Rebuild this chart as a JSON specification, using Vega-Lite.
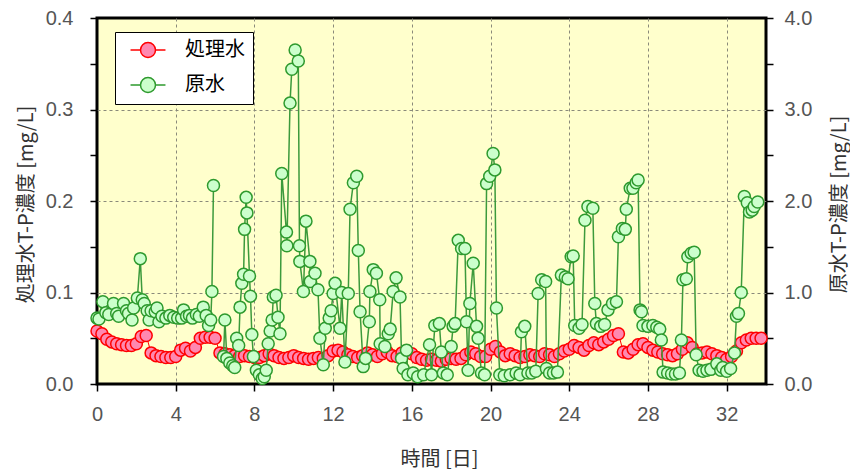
{
  "$schema": "https://vega.github.io/schema/vega-lite/v6.json",
  "width": 669,
  "height": 366,
  "autosize": "none",
  "padding": {"left": 97, "top": 18, "right": 84, "bottom": 86},
  "background": "white",
  "config": {
    "view": {"fill": "#FFFFCC", "stroke": "black", "strokeWidth": 3},
    "axis": {
      "domain": false,
      "tickColor": "black",
      "tickWidth": 1.5,
      "tickSize": 7,
      "labelFont": "Liberation Sans Narrow, Liberation Sans",
      "labelFontSize": 20,
      "labelColor": "#555555",
      "labelOverlap": false,
      "labelFlush": false,
      "labelBound": false,
      "titleFont": "Noto Sans CJK JP",
      "titleFontSize": 20,
      "titleFontWeight": "normal",
      "titleColor": "#333333",
      "gridColor": "#8a8a7a",
      "gridDash": [3, 3],
      "gridWidth": 1
    },
    "legend": {
      "orient": "none",
      "legendX": 18,
      "legendY": 14,
      "fillColor": "white",
      "strokeColor": "black",
      "padding": 8,
      "symbolType": "M -2.33 0 L -1 0 M 1 0 L 2.33 0 M -1 0 A 1 1 0 1 1 1 0 A 1 1 0 1 1 -1 0 Z",
      "symbolSize": 225,
      "symbolStrokeWidth": 1.5,
      "symbolOffset": 15,
      "labelOffset": 27,
      "labelFont": "Noto Sans CJK JP",
      "labelFontSize": 20,
      "labelColor": "black",
      "rowPadding": 13,
      "labelLimit": 200
    }
  },
  "datasets": {
    "red": [
      {"day":0,"value":0.058},{"day":0.25,"value":0.055},{"day":0.5,"value":0.049},{"day":0.75,"value":0.046},
      {"day":1,"value":0.044},{"day":1.25,"value":0.043},{"day":1.5,"value":0.042},{"day":1.75,"value":0.042},
      {"day":2,"value":0.044},{"day":2.25,"value":0.052},{"day":2.5,"value":0.053},{"day":2.75,"value":0.034},
      {"day":3,"value":0.031},{"day":3.25,"value":0.030},{"day":3.5,"value":0.029},{"day":3.75,"value":0.029},
      {"day":4,"value":0.030},{"day":4.25,"value":0.037},{"day":4.5,"value":0.039},{"day":4.75,"value":0.036},
      {"day":5,"value":0.040},{"day":5.25,"value":0.050},{"day":5.5,"value":0.051},{"day":5.75,"value":0.051},
      {"day":6,"value":0.050},{"day":6.25,"value":0.034},{"day":6.5,"value":0.033},{"day":6.75,"value":0.032},
      {"day":7,"value":0.031},{"day":7.25,"value":0.030},{"day":7.5,"value":0.031},{"day":7.75,"value":0.030},
      {"day":8,"value":0.029},{"day":8.25,"value":0.029},{"day":8.5,"value":0.031},{"day":8.75,"value":0.033},
      {"day":9,"value":0.031},{"day":9.25,"value":0.029},{"day":9.5,"value":0.028},{"day":9.75,"value":0.029},
      {"day":10,"value":0.031},{"day":10.25,"value":0.029},{"day":10.5,"value":0.028},{"day":10.75,"value":0.027},
      {"day":11,"value":0.028},{"day":11.25,"value":0.029},{"day":11.5,"value":0.028},{"day":11.75,"value":0.031},
      {"day":12,"value":0.036},{"day":12.25,"value":0.037},{"day":12.5,"value":0.035},{"day":12.75,"value":0.032},
      {"day":13,"value":0.030},{"day":13.25,"value":0.029},{"day":13.5,"value":0.031},{"day":13.75,"value":0.034},
      {"day":14,"value":0.032},{"day":14.25,"value":0.030},{"day":14.5,"value":0.033},{"day":14.75,"value":0.035},
      {"day":15,"value":0.031},{"day":15.25,"value":0.030},{"day":15.5,"value":0.034},{"day":15.75,"value":0.036},
      {"day":16,"value":0.033},{"day":16.25,"value":0.029},{"day":16.5,"value":0.027},{"day":16.75,"value":0.026},
      {"day":17,"value":0.027},{"day":17.25,"value":0.026},{"day":17.5,"value":0.025},{"day":17.75,"value":0.027},
      {"day":18,"value":0.028},{"day":18.25,"value":0.027},{"day":18.5,"value":0.028},{"day":18.75,"value":0.032},
      {"day":19,"value":0.035},{"day":19.25,"value":0.033},{"day":19.5,"value":0.030},{"day":19.75,"value":0.030},
      {"day":20,"value":0.038},{"day":20.25,"value":0.041},{"day":20.5,"value":0.035},{"day":20.75,"value":0.031},
      {"day":21,"value":0.033},{"day":21.25,"value":0.031},{"day":21.5,"value":0.029},{"day":21.75,"value":0.030},
      {"day":22,"value":0.032},{"day":22.25,"value":0.031},{"day":22.5,"value":0.030},{"day":22.75,"value":0.033},
      {"day":23,"value":0.032},{"day":23.25,"value":0.030},{"day":23.5,"value":0.033},{"day":23.75,"value":0.036},
      {"day":24,"value":0.038},{"day":24.25,"value":0.042},{"day":24.5,"value":0.040},{"day":24.75,"value":0.037},
      {"day":25,"value":0.042},{"day":25.25,"value":0.045},{"day":25.5,"value":0.043},{"day":25.75,"value":0.046},
      {"day":26,"value":0.049},{"day":26.25,"value":0.053},{"day":26.5,"value":0.055},{"day":26.75,"value":0.035},
      {"day":27,"value":0.034},{"day":27.25,"value":0.038},{"day":27.5,"value":0.043},{"day":27.75,"value":0.044},
      {"day":28,"value":0.040},{"day":28.25,"value":0.037},{"day":28.5,"value":0.035},{"day":28.75,"value":0.033},
      {"day":29,"value":0.032},{"day":29.25,"value":0.031},{"day":29.5,"value":0.033},{"day":29.75,"value":0.038},
      {"day":30,"value":0.045},{"day":30.25,"value":0.040},{"day":30.5,"value":0.033},{"day":30.75,"value":0.034},
      {"day":31,"value":0.035},{"day":31.25,"value":0.033},{"day":31.5,"value":0.031},{"day":31.75,"value":0.029},
      {"day":32,"value":0.027},{"day":32.25,"value":0.030},{"day":32.5,"value":0.036},{"day":32.75,"value":0.045},
      {"day":33,"value":0.048},{"day":33.25,"value":0.050},{"day":33.5,"value":0.050},{"day":33.75,"value":0.050}
    ],
    "green": [
      {"day":0.0,"value":0.72},{"day":0.1,"value":0.71},{"day":0.3,"value":0.90},{"day":0.45,"value":0.78},{"day":0.6,"value":0.76},
      {"day":0.84,"value":0.88},{"day":1.0,"value":0.77},{"day":1.1,"value":0.74},{"day":1.35,"value":0.88},{"day":1.5,"value":0.80},
      {"day":1.6,"value":0.77},{"day":1.78,"value":0.70},{"day":1.86,"value":0.83},{"day":2.05,"value":0.94},{"day":2.2,"value":1.37},
      {"day":2.3,"value":0.92},{"day":2.4,"value":0.88},{"day":2.55,"value":0.80},{"day":2.65,"value":0.70},{"day":2.75,"value":0.80},
      {"day":2.96,"value":0.79},{"day":3.05,"value":0.83},{"day":3.15,"value":0.68},{"day":3.3,"value":0.74},{"day":3.5,"value":0.72},
      {"day":3.7,"value":0.75},{"day":3.9,"value":0.73},{"day":4.1,"value":0.72},{"day":4.3,"value":0.72},{"day":4.4,"value":0.81},
      {"day":4.55,"value":0.74},{"day":4.7,"value":0.75},{"day":4.85,"value":0.72},{"day":5.05,"value":0.76},{"day":5.2,"value":0.74},
      {"day":5.4,"value":0.84},{"day":5.55,"value":0.75},{"day":5.67,"value":0.64},{"day":5.78,"value":0.70},{"day":5.84,"value":1.01},
      {"day":5.92,"value":2.17},{"day":6.2,"value":null},{"day":6.43,"value":0.30},{"day":6.5,"value":0.70},{"day":6.6,"value":0.28},
      {"day":6.75,"value":0.23},{"day":6.9,"value":0.20},{"day":7.0,"value":0.18},{"day":7.1,"value":0.50},{"day":7.2,"value":0.42},
      {"day":7.27,"value":0.84},{"day":7.36,"value":1.10},{"day":7.45,"value":1.20},{"day":7.5,"value":1.69},{"day":7.58,"value":2.04},
      {"day":7.62,"value":1.87},{"day":7.75,"value":1.18},{"day":7.8,"value":0.96},{"day":7.87,"value":0.54},{"day":7.95,"value":0.30},
      {"day":8.1,"value":0.15},{"day":8.25,"value":0.10},{"day":8.4,"value":0.06},{"day":8.5,"value":0.08},{"day":8.6,"value":0.15},
      {"day":8.7,"value":0.44},{"day":8.8,"value":0.58},{"day":8.9,"value":0.70},{"day":8.96,"value":0.95},{"day":9.1,"value":0.97},
      {"day":9.2,"value":0.73},{"day":9.3,"value":0.55},{"day":9.39,"value":2.30},{"day":9.63,"value":1.66},{"day":9.65,"value":1.51},
      {"day":9.81,"value":3.07},{"day":9.9,"value":3.44},{"day":10.07,"value":3.65},{"day":10.23,"value":3.53},{"day":10.29,"value":1.51},
      {"day":10.31,"value":1.34},{"day":10.49,"value":1.01},{"day":10.62,"value":1.78},{"day":10.82,"value":1.34},{"day":10.84,"value":1.12},
      {"day":11.08,"value":1.21},{"day":11.23,"value":1.03},{"day":11.33,"value":0.50},{"day":11.5,"value":0.21},{"day":11.6,"value":0.61},
      {"day":11.8,"value":0.72},{"day":11.9,"value":0.80},{"day":12.0,"value":0.99},{"day":12.1,"value":1.10},{"day":12.35,"value":0.61},
      {"day":12.44,"value":1.00},{"day":12.6,"value":0.24},{"day":12.77,"value":0.99},{"day":12.86,"value":1.91},{"day":13.03,"value":2.20},
      {"day":13.2,"value":2.27},{"day":13.28,"value":1.46},{"day":13.37,"value":0.79},{"day":13.53,"value":0.19},{"day":13.65,"value":0.28},
      {"day":13.84,"value":0.68},{"day":13.87,"value":1.01},{"day":14.04,"value":1.25},{"day":14.2,"value":1.21},{"day":14.37,"value":0.92},
      {"day":14.39,"value":0.44},{"day":14.63,"value":0.41},{"day":14.8,"value":0.55},{"day":14.9,"value":0.60},{"day":15.05,"value":1.01},
      {"day":15.2,"value":1.16},{"day":15.4,"value":0.95},{"day":15.48,"value":0.28},{"day":15.56,"value":0.17},{"day":15.73,"value":0.37},
      {"day":15.8,"value":0.10},{"day":16.07,"value":0.12},{"day":16.3,"value":0.08},{"day":16.6,"value":0.10},{"day":16.9,"value":0.43},
      {"day":17.0,"value":0.10},{"day":17.17,"value":0.64},{"day":17.4,"value":0.66},{"day":17.5,"value":0.35},{"day":17.6,"value":0.12},
      {"day":17.8,"value":0.10},{"day":18.0,"value":0.41},{"day":18.1,"value":0.63},{"day":18.2,"value":0.66},{"day":18.36,"value":1.57},
      {"day":18.53,"value":1.48},{"day":18.7,"value":1.48},{"day":18.78,"value":0.68},{"day":18.86,"value":0.15},{"day":18.95,"value":0.88},
      {"day":19.12,"value":1.32},{"day":19.29,"value":0.63},{"day":19.37,"value":0.50},{"day":19.54,"value":0.12},{"day":19.7,"value":0.10},
      {"day":19.8,"value":2.19},{"day":19.96,"value":2.27},{"day":20.13,"value":2.52},{"day":20.22,"value":2.34},{"day":20.3,"value":0.83},
      {"day":20.47,"value":0.10},{"day":20.7,"value":0.09},{"day":21.0,"value":0.10},{"day":21.3,"value":0.12},{"day":21.5,"value":0.10},
      {"day":21.57,"value":0.57},{"day":21.74,"value":0.63},{"day":21.9,"value":0.12},{"day":22.1,"value":0.12},{"day":22.3,"value":0.14},
      {"day":22.42,"value":0.99},{"day":22.6,"value":1.14},{"day":22.8,"value":1.12},{"day":22.84,"value":0.17},{"day":23.0,"value":0.12},
      {"day":23.2,"value":0.12},{"day":23.4,"value":0.13},{"day":23.6,"value":1.19},{"day":23.8,"value":1.17},{"day":23.94,"value":1.15},
      {"day":24.1,"value":1.39},{"day":24.2,"value":1.40},{"day":24.28,"value":0.64},{"day":24.5,"value":0.61},{"day":24.65,"value":0.65},
      {"day":24.8,"value":1.79},{"day":24.95,"value":1.94},{"day":25.2,"value":1.92},{"day":25.3,"value":0.88},{"day":25.38,"value":0.66},
      {"day":25.6,"value":0.63},{"day":25.8,"value":0.65},{"day":25.97,"value":0.81},{"day":26.2,"value":0.88},{"day":26.4,"value":0.90},
      {"day":26.5,"value":1.61},{"day":26.7,"value":1.70},{"day":26.85,"value":1.69},{"day":26.9,"value":1.91},{"day":27.1,"value":2.14},
      {"day":27.24,"value":2.14},{"day":27.4,"value":2.20},{"day":27.5,"value":2.23},{"day":27.6,"value":0.81},{"day":27.67,"value":0.79},
      {"day":27.75,"value":0.64},{"day":28.0,"value":0.63},{"day":28.25,"value":0.64},{"day":28.45,"value":0.62},{"day":28.6,"value":0.60},
      {"day":28.68,"value":0.48},{"day":28.77,"value":0.13},{"day":29.0,"value":0.12},{"day":29.2,"value":0.11},{"day":29.4,"value":0.11},
      {"day":29.6,"value":0.12},{"day":29.7,"value":0.48},{"day":29.78,"value":1.14},{"day":29.95,"value":1.15},{"day":30.03,"value":1.39},
      {"day":30.2,"value":1.43},{"day":30.35,"value":1.44},{"day":30.45,"value":0.32},{"day":30.6,"value":0.15},{"day":30.8,"value":0.14},
      {"day":31.0,"value":0.15},{"day":31.2,"value":0.16},{"day":31.5,"value":0.22},{"day":31.7,"value":0.15},{"day":31.8,"value":0.18},
      {"day":32.0,"value":0.14},{"day":32.2,"value":0.17},{"day":32.4,"value":0.34},{"day":32.5,"value":0.74},{"day":32.6,"value":0.77},
      {"day":32.74,"value":1.00},{"day":32.9,"value":2.05},{"day":33.05,"value":1.98},{"day":33.16,"value":1.88},{"day":33.3,"value":1.90},
      {"day":33.4,"value":1.94},{"day":33.58,"value":1.99}
    ]
  },
  "layer": [
    {
      "data": {"name": "red"},
      "transform": [{"calculate": "'処理水'", "as": "series"}],
      "encoding": {
        "x": {
          "field": "day", "type": "quantitative",
          "scale": {"domain": [0, 34], "nice": false, "zero": false},
          "axis": {
            "values": [0,1,2,3,4,5,6,7,8,9,10,11,12,13,14,15,16,17,18,19,20,21,22,23,24,25,26,27,28,29,30,31,32,33,34],
            "labelExpr": "datum.value % 4 === 0 && datum.value < 34 ? datum.label : ''",
            "grid": true,
            "gridOpacity": {"condition": {"test": "datum.value % 2 === 0 && datum.value > 0 && datum.value < 34", "value": 1}, "value": 0},
            "labelPadding": 13,
            "title": "時間 [日]",
            "titleX": 342, "titleY": 75, "titleBaseline": "middle", "titleAlign": "center"
          }
        },
        "y": {
          "field": "value", "type": "quantitative",
          "scale": {"domain": [0, 0.4], "nice": false},
          "axis": {
            "orient": "left",
            "values": [0,0.05,0.1,0.15,0.2,0.25,0.3,0.35,0.4],
            "labelExpr": "abs(datum.value*10 - round(datum.value*10)) < 0.001 ? format(datum.value, '.1f') : ''",
            "grid": true,
            "gridOpacity": {"condition": {"test": "abs(datum.value*10 - round(datum.value*10)) < 0.001 && datum.value > 0.001 && datum.value < 0.399", "value": 1}, "value": 0},
            "labelPadding": 17,
            "title": "処理水T-P濃度 [mg/L]",
            "titleAngle": -90,
            "titleX": -71, "titleY": 186, "titleBaseline": "middle", "titleAlign": "center"
          }
        }
      },
      "layer": [
        {"mark": {"type": "line", "color": "#FF0000", "strokeWidth": 1}},
        {
          "mark": {"type": "point", "shape": "circle", "filled": true, "size": 144, "strokeWidth": 1.5, "opacity": 1},
          "encoding": {
            "fill": {"field": "series", "type": "nominal", "scale": {"domain": ["処理水", "原水"], "range": ["#FF88B0", "#CCFFCC"]}, "legend": {"title": null}},
            "stroke": {"field": "series", "type": "nominal", "scale": {"domain": ["処理水", "原水"], "range": ["#FF0000", "#2E9A2E"]}, "legend": {"title": null}}
          }
        }
      ]
    },
    {
      "data": {"name": "green"},
      "transform": [{"calculate": "'原水'", "as": "series"}],
      "encoding": {
        "x": {"field": "day", "type": "quantitative"},
        "y": {
          "field": "value", "type": "quantitative",
          "scale": {"domain": [0, 4], "nice": false},
          "axis": {
            "orient": "right",
            "values": [0,0.5,1,1.5,2,2.5,3,3.5,4],
            "labelExpr": "datum.value % 1 === 0 ? format(datum.value, '.1f') : ''",
            "grid": false,
            "labelPadding": 11,
            "title": "原水T-P濃度 [mg/L]",
            "titleAngle": -90,
            "titleX": 73, "titleY": 186, "titleBaseline": "middle", "titleAlign": "center"
          }
        }
      },
      "layer": [
        {"mark": {"type": "line", "color": "#3C9A3C", "strokeWidth": 1.5}},
        {
          "mark": {"type": "point", "shape": "circle", "filled": true, "size": 144, "strokeWidth": 1.5, "opacity": 1},
          "encoding": {
            "fill": {"field": "series", "type": "nominal", "legend": {"title": null}},
            "stroke": {"field": "series", "type": "nominal", "legend": {"title": null}}
          }
        }
      ]
    }
  ],
  "resolve": {"scale": {"y": "independent"}, "axis": {"y": "independent"}}
}
